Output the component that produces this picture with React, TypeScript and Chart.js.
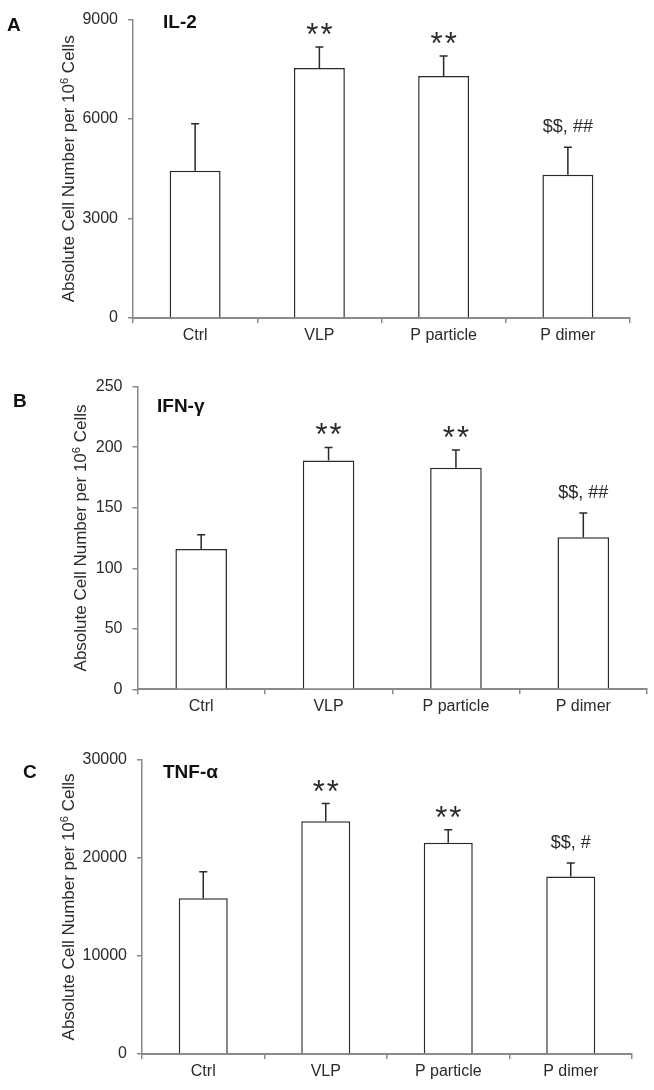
import React, { useEffect, useRef } from "react";
import { Chart, registerables } from "chart.js";

Chart.register(...registerables);

// ---------- data ----------
const categories = ["Ctrl", "VLP", "P particle", "P dimer"];

const il2Values = [4440, 7540, 7300, 4320];
const il2Errors = [1420, 630, 600, 830];
const il2Marks = ["", "**", "**", "$$, ##"];
const il2Ticks = [0, 3000, 6000, 9000];

const ifnValues = [116, 189, 183, 125.6];
const ifnErrors = [11.6, 10.8, 14.7, 20];
const ifnMarks = ["", "**", "**", "$$, ##"];
const ifnTicks = [0, 50, 100, 150, 200, 250];

const tnfValues = [15900, 23750, 21560, 18100];
const tnfErrors = [2700, 1800, 1330, 1400];
const tnfMarks = ["", "**", "**", "$$, #"];
const tnfTicks = [0, 10000, 20000, 30000];

// ---------- layout / style ----------
const FONT = '"Liberation Sans", Arial, Helvetica, sans-serif';
const AXIS_GRAY = "#8a8a8a";
const INK = "#2a2a2a";

type PanelCfg = {
  letter: string;
  title: string;
  values: number[];
  errors: number[];
  marks: string[];
  ticks: number[];
  top: number;
  height: number;
  plotLeft: number;
  plotRight: number;
  plotTop: number;
  plotBottom: number;
  letterX: number;
  letterY: number;
  titleX: number;
  titleY: number;
  yTitleX: number;
  barPct: number;
};

const panels: PanelCfg[] = [
  {
    letter: "A", title: "IL-2", values: il2Values, errors: il2Errors, marks: il2Marks, ticks: il2Ticks,
    top: 0, height: 360, plotLeft: 133, plotRight: 630, plotTop: 12.7, plotBottom: 318,
    letterX: 7, letterY: 26, titleX: 163, titleY: 23, yTitleX: 68, barPct: 0.41,
  },
  {
    letter: "B", title: "IFN-γ", values: ifnValues, errors: ifnErrors, marks: ifnMarks, ticks: ifnTicks,
    top: 360, height: 365, plotLeft: 137.5, plotRight: 647, plotTop: 386.7, plotBottom: 689.3,
    letterX: 13, letterY: 402, titleX: 157, titleY: 407, yTitleX: 80, barPct: 0.405,
  },
  {
    letter: "C", title: "TNF-α", values: tnfValues, errors: tnfErrors, marks: tnfMarks, ticks: tnfTicks,
    top: 725, height: 365, plotLeft: 142, plotRight: 632, plotTop: 760, plotBottom: 1054,
    letterX: 23, letterY: 773, titleX: 163, titleY: 773, yTitleX: 68, barPct: 0.40,
  },
];

function Panel({ cfg }: { cfg: PanelCfg }) {
  const ref = useRef<HTMLCanvasElement | null>(null);

  useEffect(() => {
    if (!ref.current) return;
    const off = cfg.top;

    const overlay = {
      id: "overlay",
      afterDatasetsDraw(chart: any) {
        const ctx = chart.ctx as CanvasRenderingContext2D;
        const meta = chart.getDatasetMeta(0);
        const ys = chart.scales.y;
        ctx.save();
        ctx.strokeStyle = INK;
        ctx.lineWidth = 1.5;
        meta.data.forEach((el: any, i: number) => {
          const x = el.x;
          const yb = el.y;
          const yt = ys.getPixelForValue(cfg.values[i] + cfg.errors[i]);
          ctx.beginPath();
          ctx.moveTo(x, yb);
          ctx.lineTo(x, yt);
          ctx.moveTo(x - 4, yt);
          ctx.lineTo(x + 4, yt);
          ctx.stroke();
          const m = cfg.marks[i];
          if (m) {
            const star = m.startsWith("*");
            ctx.font = star ? `31px ${FONT}` : `18px ${FONT}`;
            (ctx as any).letterSpacing = star ? "2px" : "0px";
            ctx.fillStyle = INK;
            ctx.textAlign = "center";
            ctx.textBaseline = "alphabetic";
            const tm = ctx.measureText(m);
            const desc = tm.actualBoundingBoxDescent || 0;
            ctx.fillText(m, x + (star ? 1 : 0), yt - 12 - desc);
          }
        });
        (ctx as any).letterSpacing = "0px";
        ctx.restore();
      },
      afterDraw(chart: any) {
        const ctx = chart.ctx as CanvasRenderingContext2D;
        const area = chart.chartArea;
        ctx.save();
        ctx.fillStyle = "#111";
        ctx.textAlign = "left";
        ctx.textBaseline = "middle";
        ctx.font = `bold 19px ${FONT}`;
        ctx.fillText(cfg.letter, cfg.letterX, cfg.letterY - off);
        ctx.fillText(cfg.title, cfg.titleX, cfg.titleY - off);

        // rotated y-axis title with superscript
        const midY = (area.top + area.bottom) / 2;
        ctx.translate(cfg.yTitleX, midY);
        ctx.rotate(-Math.PI / 2);
        ctx.fillStyle = INK;
        ctx.textBaseline = "alphabetic";
        const main = `17px ${FONT}`;
        const sup = `11px ${FONT}`;
        const p1 = "Absolute Cell Number per 10";
        const p2 = "6";
        const p3 = " Cells";
        ctx.font = main;
        const w1 = ctx.measureText(p1).width;
        const w3 = ctx.measureText(p3).width;
        ctx.font = sup;
        const w2 = ctx.measureText(p2).width;
        let x = -(w1 + w2 + w3) / 2;
        const base = 6;
        ctx.font = main;
        ctx.fillText(p1, x, base);
        x += w1;
        ctx.font = sup;
        ctx.fillText(p2, x, base - 6);
        x += w2;
        ctx.font = main;
        ctx.fillText(p3, x, base);
        ctx.restore();
      },
    };

    const chart = new Chart(ref.current, {
      type: "bar",
      data: {
        labels: categories,
        datasets: [
          {
            data: cfg.values,
            backgroundColor: "#ffffff",
            borderColor: INK,
            borderWidth: 1.5,
            categoryPercentage: 1,
            barPercentage: cfg.barPct,
          },
        ],
      },
      options: {
        animation: false,
        responsive: false,
        layout: {
          padding: {
            left: 0,
            top: cfg.plotTop - off,
            right: 654 - cfg.plotRight,
            bottom: 0,
          },
        },
        plugins: {
          legend: { display: false },
          tooltip: { enabled: false },
          title: { display: false },
        },
        scales: {
          x: {
            type: "category",
            offset: true,
            grid: {
              display: true,
              drawOnChartArea: false,
              drawTicks: true,
              tickLength: 5,
              color: AXIS_GRAY,
              lineWidth: 1.5,
              offset: true,
            },
            border: { display: true, color: AXIS_GRAY, width: 2 },
            ticks: {
              color: INK,
              font: { family: FONT, size: 16 },
              padding: 3,
              maxRotation: 0,
              autoSkip: false,
            },
            afterFit: (scale: any) => {
              scale.height = off + cfg.height - cfg.plotBottom;
            },
          },
          y: {
            type: "linear",
            min: cfg.ticks[0],
            max: cfg.ticks[cfg.ticks.length - 1],
            grid: {
              display: true,
              drawOnChartArea: false,
              drawTicks: true,
              tickLength: 5,
              color: AXIS_GRAY,
              lineWidth: 1.5,
            },
            border: { display: true, color: AXIS_GRAY, width: 1.5 },
            ticks: {
              color: INK,
              font: { family: FONT, size: 16 },
              padding: 10,
              callback: (v: any) => String(v),
            },
            afterBuildTicks: (scale: any) => {
              scale.ticks = cfg.ticks.map((v) => ({ value: v }));
            },
            afterFit: (scale: any) => {
              scale.width = cfg.plotLeft;
            },
          },
        },
      },
      plugins: [overlay],
    } as any);

    return () => chart.destroy();
  }, [cfg]);

  return (
    <canvas
      ref={ref}
      width={654}
      height={cfg.height}
      style={{ position: "absolute", left: 0, top: cfg.top, width: 654, height: cfg.height, display: "block" }}
    />
  );
}

export default function App() {
  return (
    <div
      style={{
        position: "absolute",
        left: 0,
        top: 0,
        width: 654,
        height: 1090,
        background: "#ffffff",
        overflow: "hidden",
      }}
    >
      {panels.map((p) => (
        <Panel key={p.letter} cfg={p} />
      ))}
    </div>
  );
}
